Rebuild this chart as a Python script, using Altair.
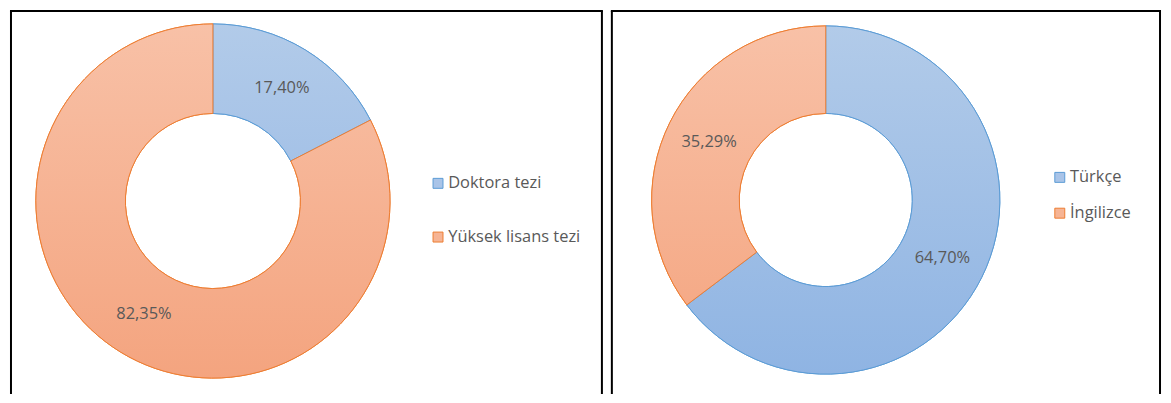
import altair as alt
import pandas as pd

# ---- data ----
left_categories = ["Doktora tezi", "Yüksek lisans tezi"]
left_values = [17.40, 82.35]
right_categories = ["Türkçe", "İngilizce"]
right_values = [64.70, 35.29]

BLUE_STROKE = "#5b9bd5"
ORANGE_STROKE = "#ed7d31"
BLUE_FILL = "#a9c4e8"
ORANGE_FILL = "#f6b494"
TEXT = "#595959"
FONT = "Open Sans"
FSIZE = 16.5


def grad(top, bottom):
    return alt.LinearGradient(
        gradient="linear",
        stops=[alt.GradientStop(offset=0, color=top), alt.GradientStop(offset=1, color=bottom)],
        x1=0, x2=0, y1=0, y2=1,
    )


def fmt(v):
    return f"{v:.2f}".replace(".", ",") + "%"


def donut(cats, vals, fills, strokes, grads, cx, cy, r_out, r_in,
          lx, ly, row_pad, width, height):
    df = pd.DataFrame({
        "cat": cats,
        "value": vals,
        "order": list(range(len(cats))),
        "label": [fmt(v) for v in vals],
    })
    total = sum(vals)
    base = alt.Chart(df).transform_window(
        end="sum(value)", sort=[alt.SortField("order")], frame=[None, 0]
    ).transform_calculate(
        start="datum.end - datum.value",
        mid="datum.end - datum.value / 2",
    )
    theta = alt.Theta("start:Q", scale=alt.Scale(domain=[0, total]))
    leg = alt.Legend(
        title=None, orient="none", legendX=lx, legendY=ly,
        symbolType="square", symbolSize=100, symbolStrokeWidth=1,
        labelFont=FONT, labelFontSize=FSIZE, labelColor=TEXT,
        rowPadding=row_pad, labelOffset=2, symbolOpacity=1,
    )
    main = base.mark_arc(radius=r_out, radius2=r_in).encode(
        theta=theta,
        theta2="end:Q",
        fill=alt.Fill("cat:N", scale=alt.Scale(domain=cats, range=fills), legend=leg),
        stroke=alt.Stroke("cat:N", scale=alt.Scale(domain=cats, range=strokes), legend=leg),
        x=alt.value(cx), y=alt.value(cy),
    )
    layers = [main]
    for c, g, s in zip(cats, grads, strokes):
        layers.append(
            base.transform_filter(alt.datum.cat == c)
            .mark_arc(radius=r_out, radius2=r_in, fill=g, stroke=s, strokeWidth=1)
            .encode(theta=theta, theta2="end:Q", x=alt.value(cx), y=alt.value(cy))
        )
    text = base.mark_text(
        radius=(r_out + r_in) / 2, font=FONT, fontSize=FSIZE, color=TEXT
    ).encode(
        theta=alt.Theta("mid:Q", scale=alt.Scale(domain=[0, total])),
        text="label:N",
        x=alt.value(cx), y=alt.value(cy),
    )
    layers.append(text)
    # frame: left, top, right sides (bottom is cut off in the original)
    frame = alt.Chart(pd.DataFrame({"k": [0]}))
    fkw = dict(color="#000000", strokeWidth=2)
    layers.append(frame.mark_rule(**fkw).encode(x=alt.value(0), y=alt.value(0), y2=alt.value(height)))
    layers.append(frame.mark_rule(**fkw).encode(x=alt.value(width), y=alt.value(0), y2=alt.value(height)))
    layers.append(frame.mark_rule(**fkw).encode(x=alt.value(-1), x2=alt.value(width + 1), y=alt.value(0)))
    return alt.layer(*layers).resolve_scale(theta="shared").properties(width=width, height=height)


left = donut(
    left_categories, left_values,
    [BLUE_FILL, ORANGE_FILL], [BLUE_STROKE, ORANGE_STROKE],
    [grad("#b2cbe9", "#a5c2e7"), grad("#f8c1a7", "#f4a47f")],
    cx=203, cy=191, r_out=178, r_in=88,
    lx=421, ly=165, row_pad=37, width=594, height=385,
)
right = donut(
    right_categories, right_values,
    [BLUE_FILL, ORANGE_FILL], [BLUE_STROKE, ORANGE_STROKE],
    [grad("#b2cbe9", "#8fb4e3"), grad("#f8c1a7", "#f5aa87")],
    cx=215, cy=190, r_out=175, r_in=87,
    lx=442, ly=159, row_pad=19, width=551, height=385,
)

chart = alt.hconcat(left, right, spacing=6).resolve_scale(
    fill="independent", stroke="independent", theta="independent"
).resolve_legend(fill="independent", stroke="independent").properties(
    padding={"left": 1, "top": 1, "right": 1, "bottom": 0}, background="white"
).configure_view(stroke=None)

chart.save("out.html", embed_options={"renderer": "svg", "actions": False})
